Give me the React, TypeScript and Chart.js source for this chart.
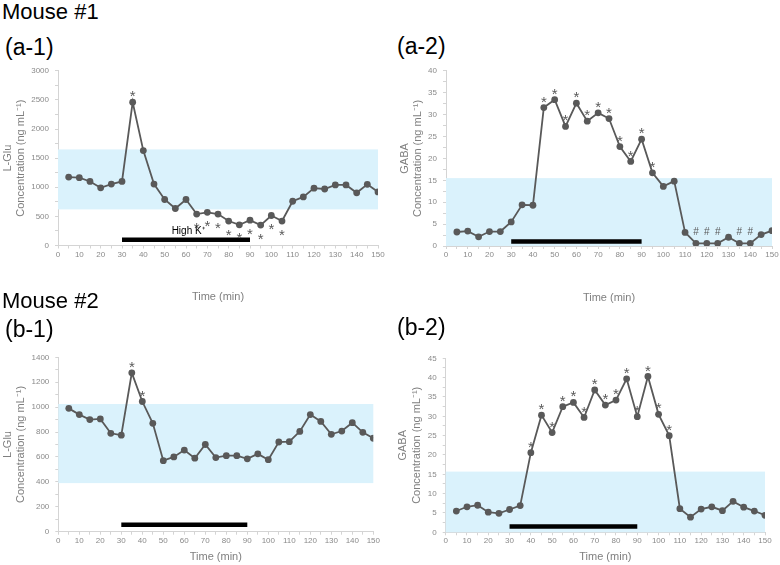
import React, { useEffect, useRef } from 'react';
import { Chart, registerables } from 'chart.js';

Chart.register(...registerables);

const FONT = "'Liberation Sans', Arial, Helvetica, sans-serif";
Chart.defaults.font.family = FONT;

// ---- data ----
const times = [5, 10, 15, 20, 25, 30, 35, 40, 45, 50, 55, 60, 65, 70, 75, 80, 85, 90, 95, 100, 105, 110, 115, 120, 125, 130, 135, 140, 145, 150];

const a1Glu = [1175, 1165, 1100, 990, 1055, 1100, 2460, 1630, 1055, 790, 635, 790, 540, 570, 540, 420, 355, 435, 350, 515, 420, 760, 835, 985, 970, 1040, 1040, 905, 1050, 920];
const a2Gaba = [3.2, 3.4, 2.1, 3.3, 3.3, 5.5, 9.4, 9.3, 31.6, 33.4, 27.3, 32.6, 28.5, 30.4, 29.1, 22.7, 19.3, 24.4, 16.7, 13.6, 14.8, 3.1, 0.6, 0.6, 0.6, 2.0, 0.6, 0.6, 2.6, 3.5];
const b1Glu = [990, 940, 900, 905, 790, 775, 1275, 1045, 870, 570, 600, 655, 590, 700, 595, 610, 610, 585, 625, 578, 720, 723, 805, 940, 885, 782, 808, 875, 798, 750];
const b2Gaba = [5.5, 6.6, 7.0, 5.2, 4.9, 5.9, 6.9, 20.6, 30.3, 25.8, 32.5, 33.6, 29.7, 36.8, 32.9, 34.2, 39.7, 29.9, 40.3, 30.5, 25.0, 6.1, 3.9, 6.0, 6.6, 5.6, 8.0, 6.5, 5.5, 4.4];

// baseline ranges (light blue bands) [low, high]
const a1Band = [620, 1650];
const a2Band = [0, 15.5];
const b1Band = [390, 1025];
const b2Band = [0, 15.7];

// high K+ perfusion period [start, end] and the level of its bar
const stimPeriod = [30, 90];
const a1StimLevel = 100;
const a2StimLevel = 1.0;
const b1StimLevel = 55;
const b2StimLevel = 1.5;

// significance marks
const a1StarAbove = [35];
const a1StarBelow = [65, 70, 75, 80, 85, 90, 95, 100, 105];
const a2StarAbove = [45, 50, 55, 60, 65, 70, 75, 80, 85, 90, 95];
const a2HashAbove = [115, 120, 125, 135, 140];
const b1StarAbove = [35, 40];
const b2StarAbove = [40, 45, 50, 55, 60, 65, 70, 75, 80, 85, 90, 95, 100, 105];

// axes
const xMax = 150;
const xLabelStep = 10;
const xMinorStep = 5;
const a1Y = { max: 3000, label: 500, minor: 250 };
const a2Y = { max: 40, label: 5, minor: 2.5 };
const b1Y = { max: 1400, label: 200, minor: 100 };
const b2Y = { max: 45, label: 5, minor: 2.5 };

const xTitle = 'Time (min)';
const yUnit = 'Concentration (ng mL\u207B\u00B9)';

// ---- styles ----
const LINE = '#595959';
const BAND = '#daf2fc';
const AXIS = '#d4d4d4';
const TICK = '#8a8a8a';
const TITLE = '#7f7f7f';

type PanelCfg = {
  left: number; top: number; w: number; h: number;
  padTop: number; padRight: number; padBottom: number;
  yw: number; xh: number; yTitlePad: number;
  analyte: string; values: number[]; band: number[];
  yAxis: { max: number; label: number; minor: number };
  stimLevel: number;
  starAbove: number[]; starBelow: number[]; hashAbove: number[];
  stimLabel?: string;
};

const panels: PanelCfg[] = [
  {
    left: 0, top: 60, w: 390, h: 250, padTop: 9.5, padRight: 12, padBottom: 6.4,
    yw: 58, xh: 58.1, yTitlePad: 1.4,
    analyte: 'L-Glu', values: a1Glu, band: a1Band, yAxis: a1Y, stimLevel: a1StimLevel,
    starAbove: a1StarAbove, starBelow: a1StarBelow, hashAbove: [], stimLabel: 'High K\u207A',
  },
  {
    left: 390, top: 60, w: 390, h: 250, padTop: 8.5, padRight: 8, padBottom: 5.4,
    yw: 56, xh: 58.6, yTitlePad: 8.4,
    analyte: 'GABA', values: a2Gaba, band: a2Band, yAxis: a2Y, stimLevel: a2StimLevel,
    starAbove: a2StarAbove, starBelow: [], hashAbove: a2HashAbove,
  },
  {
    left: 0, top: 340, w: 390, h: 225, padTop: 17.3, padRight: 16.7, padBottom: 1.4,
    yw: 58.3, xh: 31.9, yTitlePad: 0.9,
    analyte: 'L-Glu', values: b1Glu, band: b1Band, yAxis: b1Y, stimLevel: b1StimLevel,
    starAbove: b1StarAbove, starBelow: [], hashAbove: [],
  },
  {
    left: 390, top: 340, w: 390, h: 225, padTop: 18.3, padRight: 15, padBottom: 1.7,
    yw: 55.7, xh: 31, yTitlePad: 6.7,
    analyte: 'GABA', values: b2Gaba, band: b2Band, yAxis: b2Y, stimLevel: b2StimLevel,
    starAbove: b2StarAbove, starBelow: [], hashAbove: [],
  },
];

function Panel({ cfg }: { cfg: PanelCfg }) {
  const ref = useRef<HTMLCanvasElement | null>(null);

  useEffect(() => {
    if (!ref.current) return;
    const annot = {
      id: 'annot',
      beforeDatasetsDraw(chart: any) {
        const { ctx, scales } = chart;
        const x = scales.x, y = scales.y;
        ctx.save();
        ctx.fillStyle = BAND;
        const x0 = x.getPixelForValue(0);
        const x1 = x.getPixelForValue(xMax);
        const yTop = y.getPixelForValue(cfg.band[1]);
        const yBot = y.getPixelForValue(cfg.band[0]);
        ctx.fillRect(x0, yTop, x1 - x0, yBot - yTop);
        ctx.restore();
      },
      afterDatasetsDraw(chart: any) {
        const { ctx, scales } = chart;
        const x = scales.x, y = scales.y;
        ctx.save();
        ctx.fillStyle = LINE;
        ctx.textAlign = 'center';
        ctx.textBaseline = 'alphabetic';
        const starSize = 15;
        ctx.font = `${starSize}px ${FONT}`;
        const drawStar = (t: number, dy: number) => {
          const i = times.indexOf(t);
          const px = x.getPixelForValue(t);
          const py = y.getPixelForValue(cfg.values[i]) + dy;
          // asterisk glyph centre sits ~0.57em above the baseline
          ctx.fillText('*', px, py + starSize * 0.57);
        };
        cfg.starAbove.forEach((t) => drawStar(t, -9.5));
        cfg.starBelow.forEach((t) => drawStar(t, 10));
        const hashSize = 10;
        ctx.font = `${hashSize}px ${FONT}`;
        ctx.textBaseline = 'middle';
        cfg.hashAbove.forEach((t) => {
          const i = times.indexOf(t);
          ctx.fillText('#', x.getPixelForValue(t), y.getPixelForValue(cfg.values[i]) - 11);
        });
        if (cfg.stimLabel) {
          ctx.fillStyle = '#000';
          ctx.font = `10px ${FONT}`;
          ctx.fillText(cfg.stimLabel, x.getPixelForValue(61), y.getPixelForValue(cfg.stimLevel) - 8.5);
        }
        ctx.restore();
      },
    };

    const chart = new Chart(ref.current, {
      type: 'line',
      data: {
        datasets: [
          {
            data: times.map((t, i) => ({ x: t, y: cfg.values[i] })),
            borderColor: LINE,
            backgroundColor: LINE,
            borderWidth: 1.8,
            pointRadius: 3.4,
            pointBackgroundColor: LINE,
            pointBorderColor: LINE,
            pointBorderWidth: 0,
            tension: 0,
            order: 0,
          },
          {
            data: stimPeriod.map((t) => ({ x: t, y: cfg.stimLevel })),
            borderColor: '#000',
            borderWidth: 4.5,
            borderCapStyle: 'butt',
            pointRadius: 0,
            order: 1,
          },
        ],
      },
      options: {
        animation: false,
        responsive: false,
        devicePixelRatio: 1,
        events: [],
        layout: { padding: { left: 0, top: cfg.padTop, right: cfg.padRight, bottom: cfg.padBottom } },
        plugins: { legend: { display: false }, tooltip: { enabled: false } },
        scales: {
          x: {
            type: 'linear',
            min: 0,
            max: xMax,
            border: { color: AXIS, width: 1 },
            grid: { drawOnChartArea: false, drawTicks: true, tickLength: 3, color: AXIS },
            ticks: {
              stepSize: xMinorStep,
              autoSkip: false,
              maxRotation: 0,
              minRotation: 0,
              padding: 1,
              color: TICK,
              font: { size: 8 },
              callback: (v: any) => (Number(v) % xLabelStep === 0 ? String(v) : ''),
            },
            title: { display: true, text: xTitle, color: TITLE, font: { size: 11 }, padding: 0 },
            afterFit: (s: any) => { s.height = cfg.xh; },
          },
          y: {
            type: 'linear',
            min: 0,
            max: cfg.yAxis.max,
            border: { color: AXIS, width: 1 },
            grid: { drawOnChartArea: false, drawTicks: true, tickLength: 3, color: AXIS },
            ticks: {
              stepSize: cfg.yAxis.minor,
              autoSkip: false,
              padding: 6,
              color: TICK,
              font: { size: 8 },
              callback: (v: any) => (Number(v) % cfg.yAxis.label === 0 ? String(v) : ''),
            },
            title: {
              display: true,
              text: [cfg.analyte, yUnit],
              color: TITLE,
              font: { size: 11 },
              padding: { top: cfg.yTitlePad, bottom: 0 },
            },
            afterFit: (s: any) => { s.width = cfg.yw; },
          },
        },
      } as any,
      plugins: [annot as any],
    });
    return () => chart.destroy();
  }, [cfg]);

  return (
    <canvas
      ref={ref}
      width={cfg.w}
      height={cfg.h}
      style={{ position: 'absolute', left: cfg.left, top: cfg.top, width: cfg.w, height: cfg.h }}
    />
  );
}

const headings = [
  { text: 'Mouse #1', left: 2, top: 1, size: 22 },
  { text: '(a-1)', left: 5, top: 35.5, size: 23 },
  { text: '(a-2)', left: 397, top: 34.5, size: 23 },
  { text: 'Mouse #2', left: 2, top: 289.5, size: 22 },
  { text: '(b-1)', left: 5, top: 317.5, size: 23 },
  { text: '(b-2)', left: 397, top: 316, size: 23 },
];

export default function App() {
  return (
    <div style={{ position: 'absolute', left: 0, top: 0, width: 780, height: 565, background: '#fff', overflow: 'hidden' }}>
      {panels.map((p, i) => (
        <Panel key={i} cfg={p} />
      ))}
      {headings.map((h, i) => (
        <div
          key={i}
          style={{
            position: 'absolute', left: h.left, top: h.top, fontFamily: FONT, fontSize: h.size,
            lineHeight: `${h.size}px`, color: '#000', whiteSpace: 'nowrap',
          }}
        >
          {h.text}
        </div>
      ))}
    </div>
  );
}
